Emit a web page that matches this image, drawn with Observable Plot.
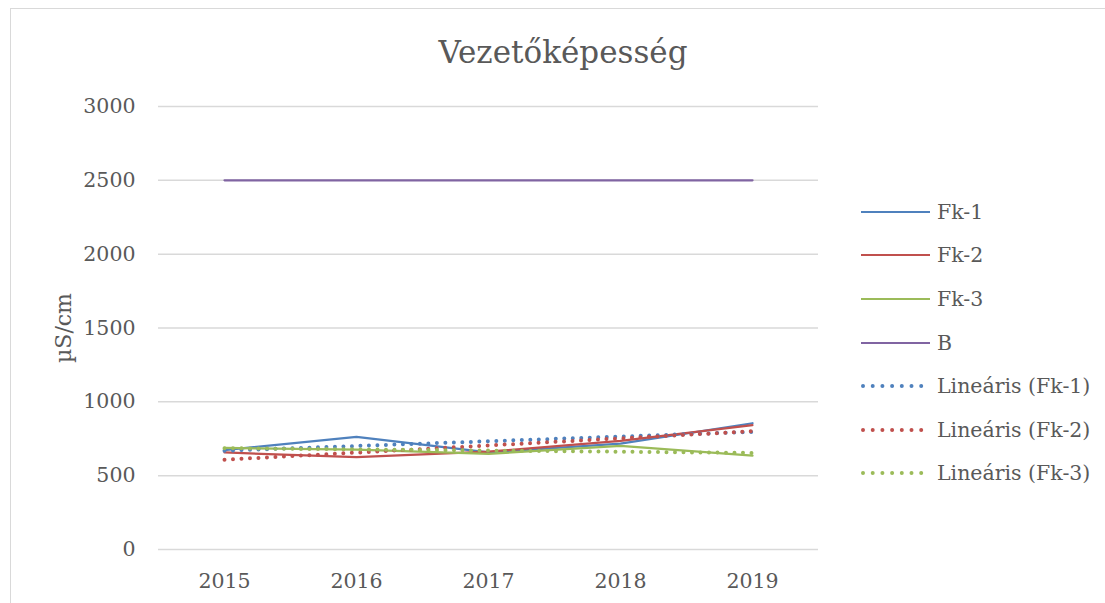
<!DOCTYPE html>
<html>
<head>
<meta charset="utf-8">
<script src="https://cdn.jsdelivr.net/npm/d3@7"></script>
<script src="https://cdn.jsdelivr.net/npm/@observablehq/plot@0.6"></script>
<style>
  html, body { margin: 0; padding: 0; background: #fff; }
  #wrap { position: relative; width: 1105px; height: 603px; overflow: hidden; font-family: "DejaVu Serif", serif; color: #595959; }
  #frame { position: absolute; left: 10px; top: 8px; width: 1200px; height: 700px; border: 1px solid #d9d9d9; box-sizing: border-box; }
  #chart { position: absolute; left: 0; top: 0; }
  #title { position: absolute; left: 0; width: 1126px; top: 34px; text-align: center; font-size: 31px; line-height: 36px; }
  #legend { position: absolute; left: 861px; top: 190px; font-size: 20.5px; }
  .row { display: flex; align-items: center; height: 43.6px; }
  .row svg { margin-right: 7px; }
</style>
</head>
<body>
<div id="wrap">
  <div id="frame"></div>
  <div id="chart"></div>
  <div id="title">Vezetőképesség</div>
  <div id="legend"></div>
</div>
<script>
const years = [2015, 2016, 2017, 2018, 2019];
const seriesNames = ["Fk-1", "Fk-2", "Fk-3", "B"];
const fk1 = [673, 762, 658, 717, 855];
const fk2 = [657, 625, 662, 735, 843];
const fk3 = [688, 677, 648, 701, 636];
const b = [2500, 2500, 2500, 2500, 2500];
const yTicks = [0, 500, 1000, 1500, 2000, 2500, 3000];
const colors = ["#4F81BD", "#C0504D", "#9BBB59", "#8064A2"];
const trendNames = ["Lineáris (Fk-1)", "Lineáris (Fk-2)", "Lineáris (Fk-3)"];

const values = [fk1, fk2, fk3, b];
const data = [];
seriesNames.forEach((s, i) => years.forEach((yr, j) => data.push({series: s, year: yr, value: values[i][j]})));
const fkData = data.filter(d => d.series !== "B");

const chart = Plot.plot({
  width: 1105,
  height: 603,
  marginLeft: 158,
  marginRight: 287,
  marginTop: 106,
  marginBottom: 54,
  style: {fontFamily: "DejaVu Serif, serif", fontSize: "20.5px", color: "#595959", background: "transparent"},
  x: {type: "linear", domain: [2014.5, 2019.5]},
  y: {domain: [0, 3000]},
  color: {domain: seriesNames, range: colors},
  marks: [
    Plot.ruleY(yTicks, {stroke: "#d9d9d9", strokeWidth: 1.5}),
    Plot.axisY({ticks: yTicks, tickSize: 0, tickPadding: 23, tickFormat: "d", label: "µS/cm", labelAnchor: "center", labelArrow: "none", labelOffset: 103, fontSize: 20.5}),
    Plot.axisX({ticks: years, tickSize: 0, tickPadding: 24, tickFormat: "d", label: null, fontSize: 20.5}),
    Plot.line(data, {x: "year", y: "value", stroke: "series", strokeWidth: 2.25}),
    Plot.linearRegressionY(fkData, {x: "year", y: "value", stroke: "series", ci: 0, strokeWidth: 4, strokeDasharray: "0 8.5", strokeLinecap: "round"})
  ]
});
document.getElementById("chart").appendChild(chart);
chart.querySelectorAll("[aria-label='y-axis label'] text").forEach(t => t.style.fontSize = "22px");

const legend = document.getElementById("legend");
const items = seriesNames.map((s, i) => ({name: s, color: colors[i], dotted: false}))
  .concat(trendNames.map((s, i) => ({name: s, color: colors[i], dotted: true})));
items.forEach(it => {
  const row = document.createElement("div");
  row.className = "row";
  const line = it.dotted
    ? `<line x1="2" y1="5" x2="66" y2="5" stroke="${it.color}" stroke-width="4" stroke-linecap="round" stroke-dasharray="0 9.7"/>`
    : `<line x1="0" y1="5" x2="69" y2="5" stroke="${it.color}" stroke-width="2"/>`;
  row.innerHTML = `<svg width="69" height="10">${line}</svg><span>${it.name}</span>`;
  legend.appendChild(row);
});
</script>
</body>
</html>
